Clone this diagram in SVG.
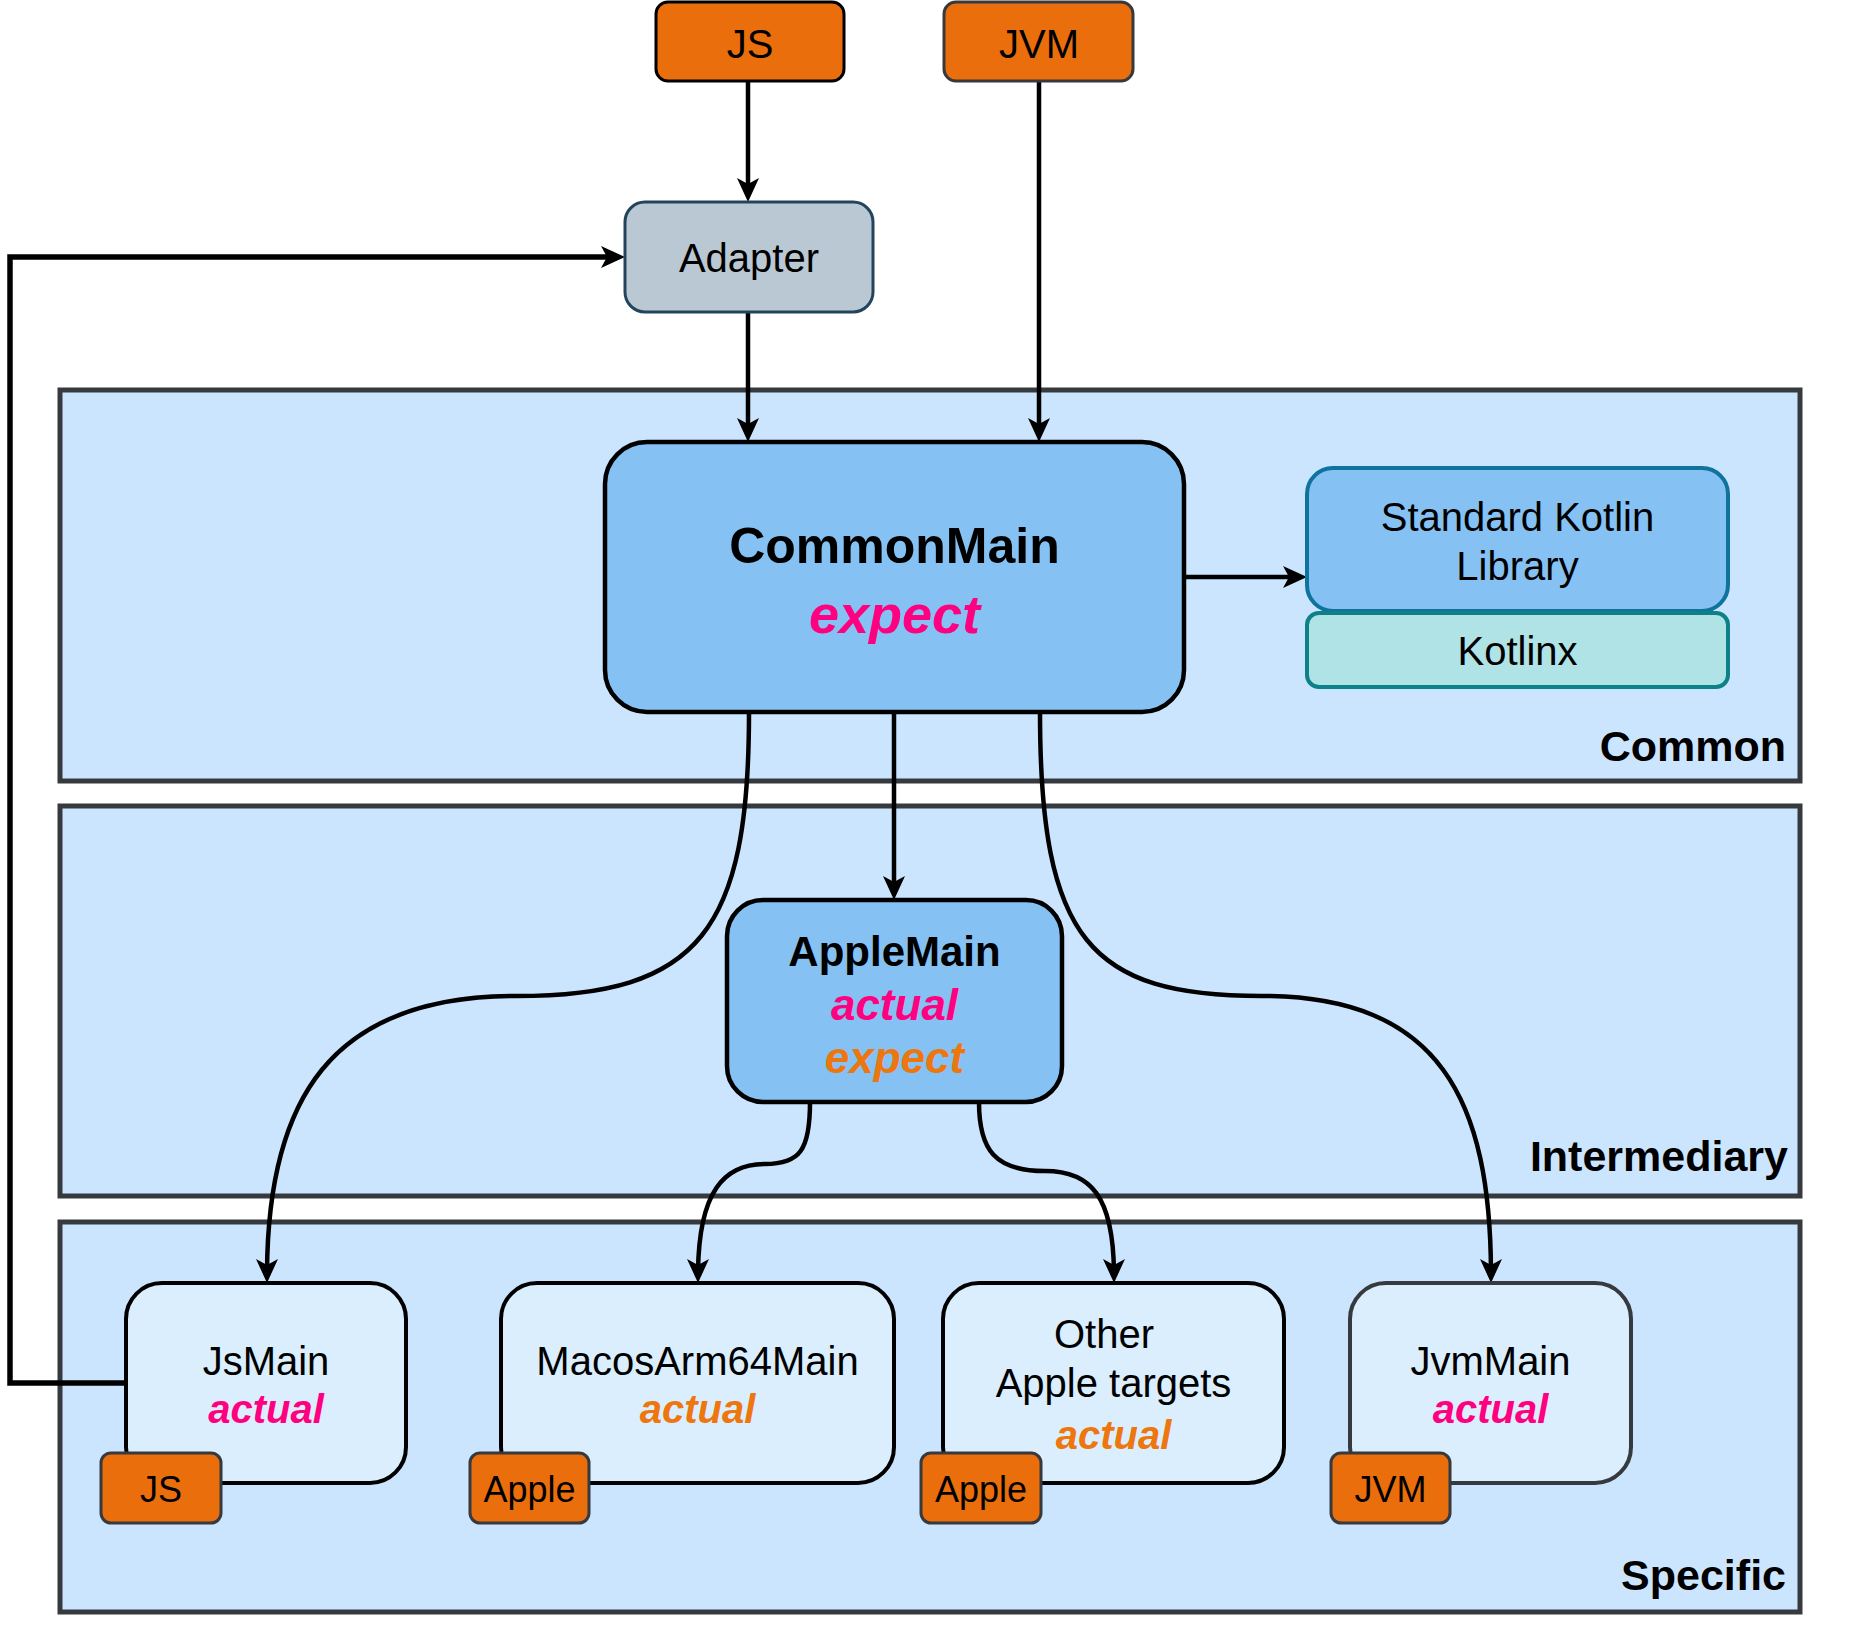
<svg xmlns="http://www.w3.org/2000/svg" width="1860" height="1642" viewBox="0 0 1860 1642">
<style>
  text { font-family: "Liberation Sans", Arial, sans-serif; text-anchor: middle; fill: #000; }
  .lbl { font-size: 40px; }
  .big { font-size: 50px; font-weight: bold; }
  .mid { font-size: 42px; font-weight: bold; }
  .ctr { font-size: 43px; font-weight: bold; text-anchor: end; }
  .badge-t { font-size: 36px; }
  .pink { fill: #ff0080; font-weight: bold; font-style: italic; }
  .orng { fill: #ee760e; font-weight: bold; font-style: italic; }
  .container { fill: #cce5ff; stroke: #36393d; stroke-width: 5; }
  .badge { fill: #eb6e0c; stroke: #36393d; stroke-width: 3; }
  .core { fill: #85c2f3; stroke: #000; stroke-width: 4.5; }
  .leaf { fill: #daeefd; stroke: #000; stroke-width: 4; }
  .edge { fill: none; stroke: #000; stroke-width: 4.5; }
</style>
<defs>
  <marker id="arrow" markerUnits="userSpaceOnUse" markerWidth="26" markerHeight="24" refX="17" refY="11" orient="auto">
    <path d="M0,0 L24,11 L0,22 L6,11 Z" fill="#000"/>
  </marker>
</defs>

<g id="container-common">
  <rect class="container" x="60" y="390" width="1740" height="391"/>
  <text class="ctr" x="1786" y="761">Common</text>
</g>
<g id="container-intermediary">
  <rect class="container" x="60" y="806" width="1740" height="390"/>
  <text class="ctr" x="1788" y="1171">Intermediary</text>
</g>
<g id="container-specific">
  <rect class="container" x="60" y="1222" width="1740" height="390"/>
  <text class="ctr" x="1786" y="1590">Specific</text>
</g>

<g id="connectors">
  <path class="edge" d="M748,81 L748,195" marker-end="url(#arrow)"/>
  <path class="edge" d="M748,312 L748,435" marker-end="url(#arrow)"/>
  <path class="edge" d="M1039,81 L1039,435" marker-end="url(#arrow)"/>
  <path class="edge" d="M1184,577 L1300,577" marker-end="url(#arrow)"/>
  <path class="edge" d="M894,712 L894,893" marker-end="url(#arrow)"/>
  <path class="edge" d="M749,712 C749,930 700,996 516,996 C330,996 267,1100 267,1276" marker-end="url(#arrow)"/>
  <path class="edge" d="M1040,712 C1040,940 1090,996 1262,996 C1440,996 1491,1100 1491,1276" marker-end="url(#arrow)"/>
  <path class="edge" d="M810,1102 C810,1150 800,1164 765,1164 C725,1164 698,1190 698,1276" marker-end="url(#arrow)"/>
  <path class="edge" d="M979,1102 C979,1150 995,1171 1045,1171 C1090,1171 1114,1195 1114,1276" marker-end="url(#arrow)"/>
  <path class="edge" style="stroke-width:5.5" d="M126,1383 L10,1383 L10,257 L618,257" marker-end="url(#arrow)"/>
</g>

<g id="node-js-top">
  <rect class="badge" style="stroke:#000" x="656" y="2" width="188" height="79" rx="12"/>
  <text class="lbl" x="750" y="58">JS</text>
</g>
<g id="node-jvm-top">
  <rect class="badge" x="944" y="2" width="189" height="79" rx="12"/>
  <text class="lbl" x="1039" y="58">JVM</text>
</g>
<g id="node-adapter">
  <rect x="625" y="202" width="248" height="110" rx="20" fill="#bac8d3" stroke="#23445d" stroke-width="3"/>
  <text class="lbl" x="749" y="272">Adapter</text>
</g>
<g id="node-commonmain">
  <rect class="core" x="605" y="442" width="579" height="270" rx="42"/>
  <text class="big" x="894.5" y="563">CommonMain</text>
  <text class="pink" style="font-size:54px" x="894.5" y="633">expect</text>
</g>
<g id="node-stdlib">
  <rect x="1307" y="468" width="421" height="143" rx="26" fill="#85c2f3" stroke="#10739e" stroke-width="4"/>
  <text class="lbl" x="1517.5" y="531">Standard Kotlin</text>
  <text class="lbl" x="1517.5" y="580">Library</text>
</g>
<g id="node-kotlinx">
  <rect x="1307" y="613" width="421" height="74" rx="12" fill="#b0e3e6" stroke="#0e8088" stroke-width="4"/>
  <text class="lbl" x="1517.5" y="665">Kotlinx</text>
</g>
<g id="node-applemain">
  <rect class="core" x="727" y="900" width="335" height="202" rx="36"/>
  <text class="mid" x="894.5" y="966">AppleMain</text>
  <text class="pink" style="font-size:44px" x="894.5" y="1020">actual</text>
  <text class="orng" style="font-size:44px" x="894.5" y="1073">expect</text>
</g>
<g id="node-jsmain">
  <rect class="leaf" x="126" y="1283" width="280" height="200" rx="36"/>
  <text class="lbl" x="266" y="1375">JsMain</text>
  <text class="pink lbl" x="266" y="1423">actual</text>
</g>
<g id="node-macosarm64main">
  <rect class="leaf" x="501" y="1283" width="393" height="200" rx="36"/>
  <text class="lbl" x="697.5" y="1375">MacosArm64Main</text>
  <text class="orng lbl" x="697.5" y="1423">actual</text>
</g>
<g id="node-other-apple">
  <rect class="leaf" x="943" y="1283" width="341" height="200" rx="36"/>
  <text class="lbl" x="1104" y="1348">Other</text>
  <text class="lbl" x="1113.5" y="1397">Apple targets</text>
  <text class="orng lbl" x="1113.5" y="1449">actual</text>
</g>
<g id="node-jvmmain">
  <rect class="leaf" style="stroke:#36393d" x="1350" y="1283" width="281" height="200" rx="36"/>
  <text class="lbl" x="1490.5" y="1375">JvmMain</text>
  <text class="pink lbl" x="1490.5" y="1423">actual</text>
</g>
<g id="badge-js">
  <rect class="badge" x="101" y="1453" width="120" height="70" rx="10"/>
  <text class="badge-t" x="161" y="1502">JS</text>
</g>
<g id="badge-apple-macos">
  <rect class="badge" x="470" y="1453" width="119" height="70" rx="10"/>
  <text class="badge-t" x="529.5" y="1502">Apple</text>
</g>
<g id="badge-apple-other">
  <rect class="badge" x="921" y="1453" width="120" height="70" rx="10"/>
  <text class="badge-t" x="981" y="1502">Apple</text>
</g>
<g id="badge-jvm">
  <rect class="badge" x="1331" y="1453" width="119" height="70" rx="10"/>
  <text class="badge-t" x="1390.5" y="1502">JVM</text>
</g>
</svg>
